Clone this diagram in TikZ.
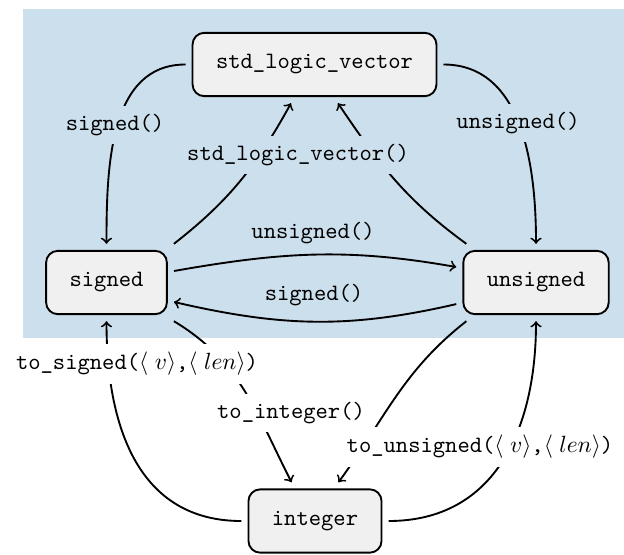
\documentclass[tikz,border=0pt]{standalone}
\definecolor{bgblue}{RGB}{204,223,236}
\definecolor{boxgray}{RGB}{240,240,240}
\begin{document}
\begin{tikzpicture}[x=0.4264pt,y=0.4264pt,
  box/.style={draw, thick, rounded corners=5pt, fill=boxgray, font=\ttfamily,
    inner xsep=10pt, minimum height=27pt, outer sep=3pt},
  conn/.style={thick, ->},
  lbl/.style={font=\ttfamily, fill=bgblue},
  lblw/.style={font=\ttfamily, fill=white}]
\useasboundingbox (0,0) rectangle (624,554);
\fill[bgblue] (23,216) rectangle (624,545);
\node[box] (slv) at (314.5,489.5) {std\_logic\_vector};
\node[box] (signed) at (106.5,271.5) {signed};
\node[box] (unsigned) at (536,271.5) {unsigned};
\node[box] (integer) at (315,33) {integer};
% edges
\draw[conn] (slv.west) to[out=180,in=90] (signed.north);
\draw[conn] (slv.east) to[out=0,in=90] (unsigned.north);
\draw[conn] (signed.north east) to[out=38,in=-119] ([xshift=-10pt]slv.south);
\draw[conn] ([xshift=4.3pt]unsigned.north west) to[out=144,in=-56] ([xshift=10pt]slv.south);
\draw[conn] ([yshift=4.9pt]signed.east) to[out=10,in=170] ([yshift=6.6pt]unsigned.west);
\draw[conn] ([yshift=-9.2pt]unsigned.west) to[out=193,in=-13] ([yshift=-8.3pt]signed.east);
\draw[conn] (integer.west) to[out=180,in=-90,looseness=1.1] (signed.south);
\draw[conn] (integer.east) to[out=0,in=-90,looseness=1.1] (unsigned.south);
\draw[conn] (signed.south east) to[out=-31,in=117] ([xshift=-10pt]integer.north);
\draw[conn] ([xshift=4.3pt]unsigned.south west) to[out=-142,in=54] ([xshift=10pt]integer.north);
% labels
\node[lbl] (l1) at (115,429) {signed()};
\node[lbl] (l2) at (518,431) {unsigned()};
\node[lbl] (l3) at (298,399) {std\_logic\_vector()};
\node[lbl] (l4) at (313,321) {unsigned()};
\node[lbl] (l5) at (314,259) {signed()};
\node[lblw] (l6) at (137,190) {to\_signed($\langle\;v\rangle$,$\langle\;len\rangle$)};
\node[lblw] (l7) at (291,141) {to\_integer()};
\node[lblw] (l8) at (480,107) {to\_unsigned($\langle\;v\rangle$,$\langle\;len\rangle$)};
\end{tikzpicture}
\end{document}
